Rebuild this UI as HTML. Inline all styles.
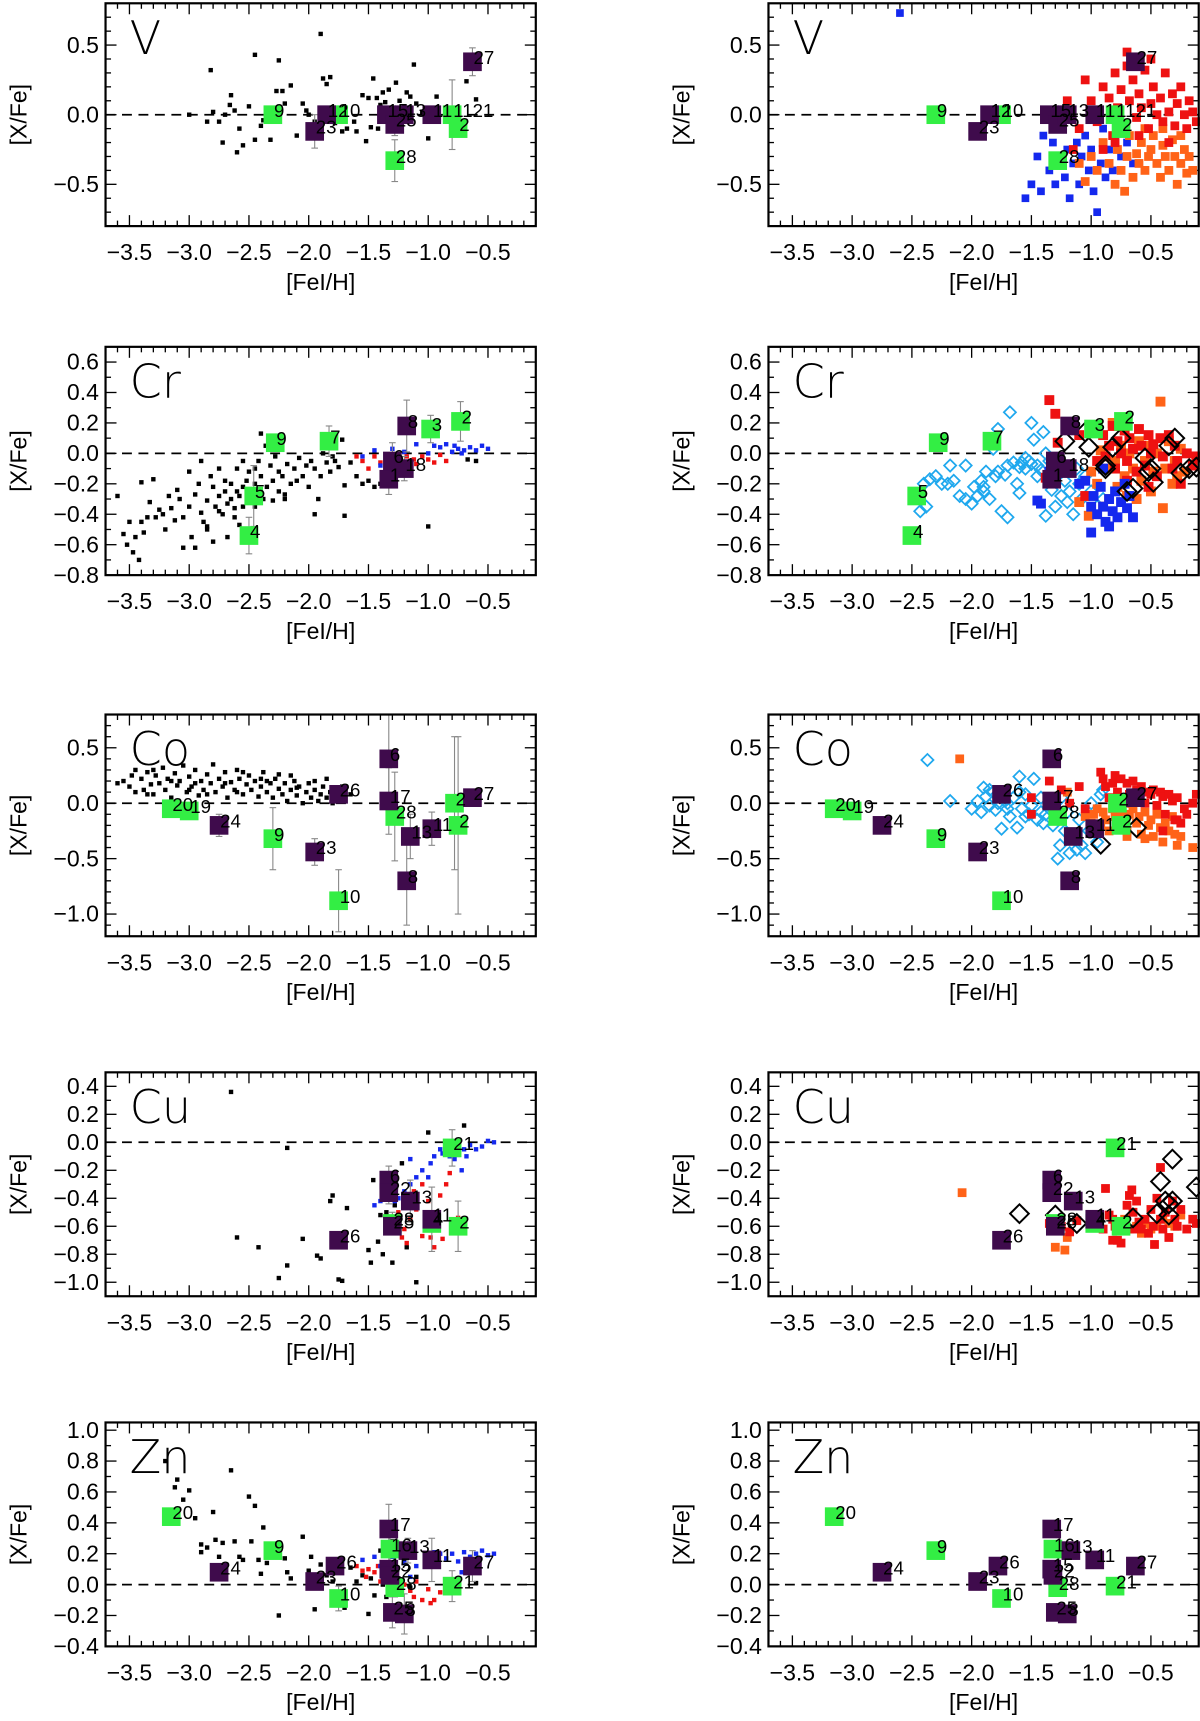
<!DOCTYPE html>
<html><head><meta charset="utf-8"><title>Abundance ratios [X/Fe] vs [FeI/H]</title>
<style>html,body{margin:0;padding:0;background:#fff;}svg{display:block;font-family:"Liberation Sans",sans-serif;}</style>
</head><body>
<svg id="fig" width="1200" height="1721" viewBox="0 0 1093 1568" xmlns="http://www.w3.org/2000/svg"></svg>
<script>
// ---------- data (x = [FeI/H], y = [X/Fe]) ----------
const xTicks=[-3.5,-3.0,-2.5,-2.0,-1.5,-1.0,-0.5];
const xTickLabels=["−3.5","−3.0","−2.5","−2.0","−1.5","−1.0","−0.5"];
// labeled stars: [x, y, label, type(g=green,p=purple), err]
const vStars=[[-2.3,0.0,"9","g",0],[-1.75,0.0,"10","g",0],[-1.28,-0.33,"28","g",0.15],[-0.8,0.0,"1121","g",0.25],[-0.75,-0.1,"2","g",0],[-1.95,-0.12,"23","p",0.12],[-1.85,0.0,"12","p",0],[-1.35,0.0,"15","p",0],[-1.28,-0.07,"25","p",0.08],[-1.2,0.0,"13","p",0],[-0.97,0.0,"11","p",0],[-0.63,0.38,"27","p",0.1]];
const crStars=[[-2.28,0.07,"9","g",0],[-1.83,0.08,"7","g",0.1],[-2.46,-0.28,"5","g",0.2],[-2.5,-0.54,"4","g",0.12],[-0.98,0.16,"3","g",0.09],[-0.73,0.21,"2","g",0.13],[-1.18,0.18,"8","p",0.17],[-1.33,-0.17,"1","p",0.1],[-1.3,-0.05,"6","p",0.12],[-1.2,-0.1,"18","p",0.08]];
const coStars=[[-3.15,-0.05,"20","g",0],[-3.0,-0.07,"19","g",0],[-2.3,-0.32,"9","g",0.28],[-1.75,-0.88,"10","g",0.28],[-1.28,-0.12,"28","g",0.4],[-0.78,0.0,"2","g",0.6],[-0.75,-0.2,"2","g",0.8],[-2.75,-0.2,"24","p",0.1],[-1.95,-0.44,"23","p",0.12],[-1.75,0.08,"26","p",0],[-1.33,0.4,"6","p",0.4],[-1.33,0.02,"17","p",0.3],[-1.15,-0.3,"13","p",0.2],[-1.18,-0.7,"8","p",0.4],[-0.97,-0.23,"11","p",0.15],[-0.63,0.05,"27","p",0]];
const cuStars=[[-0.8,-0.04,"21","g",0.13],[-0.75,-0.6,"2","g",0.18],[-1.3,-0.58,"28","g",0.08],[-0.97,-0.58,"4","g",0],[-1.75,-0.7,"26","p",0],[-1.33,-0.27,"6","p",0.1],[-1.33,-0.36,"22","p",0.08],[-1.15,-0.42,"13","p",0.15],[-0.97,-0.55,"11","p",0.23],[-1.3,-0.6,"25","p",0]];
const znStars=[[-3.15,0.44,"20","g",0],[-2.3,0.22,"9","g",0.05],[-1.75,-0.09,"10","g",0.08],[-1.32,0.23,"16","g",0.08],[-1.28,-0.02,"28","g",0.06],[-0.8,-0.01,"21","g",0.1],[-2.75,0.08,"24","p",0],[-1.95,0.02,"23","p",0],[-1.78,0.12,"26","p",0],[-1.33,0.36,"17","p",0.16],[-1.33,0.1,"15","p",0.1],[-1.32,0.06,"22","p",0],[-1.17,0.22,"13","p",0.08],[-0.97,0.16,"11","p",0.14],[-0.63,0.12,"27","p",0.1],[-1.3,-0.18,"25","p",0.1],[-1.2,-0.19,"8","p",0.13]];

// left-panel literature (small dots)
const vLitBlack=[[-3.0,0.0],[-2.85,-0.05],[-2.82,0.32],[-2.8,0.02],[-2.75,-0.05],[-2.72,-0.2],[-2.7,0.0],[-2.66,0.07],[-2.65,0.14],[-2.62,0.03],[-2.6,-0.27],[-2.58,-0.1],[-2.55,-0.22],[-2.5,0.06],[-2.45,-0.18],[-2.45,0.43],[-2.4,-0.08],[-2.38,-0.04],[-2.35,0.03],[-2.32,-0.18],[-2.27,0.17],[-2.25,0.39],[-2.22,0.17],[-2.2,0.08],[-2.15,0.21],[-2.1,-0.15],[-2.05,0.08],[-2.02,0.03],[-1.95,-0.05],[-1.88,0.26],[-1.9,0.58],[-1.85,0.22],[-1.82,0.27],[-1.78,-0.06],[-1.72,-0.12],[-1.7,0.02],[-1.68,-0.1],[-1.62,-0.05],[-1.55,0.14],[-1.52,-0.19],[-1.5,0.12],[-1.48,-0.09],[-1.46,0.26],[-1.43,0.12],[-1.4,0.07],[-1.38,0.16],[-1.36,0.09],[-1.33,0.18],[-1.3,0.04],[-1.27,0.23],[-1.24,0.1],[-1.2,0.06],[-1.18,0.16],[-1.15,0.13],[-1.12,0.36],[-1.1,0.08],[-1.05,0.02],[-1.0,-0.17],[-0.93,0.13],[-0.68,0.24],[-0.6,0.11],[-1.6,-0.12],[-2.0,0.0],[-1.25,-0.03],[-1.42,-0.1]];
const crLitBlack=[[-3.6,-0.28],[-3.55,-0.53],[-3.52,-0.6],[-3.5,-0.45],[-3.47,-0.65],[-3.45,-0.55],[-3.42,-0.7],[-3.4,-0.45],[-3.4,-0.19],[-3.38,-0.52],[-3.35,-0.42],[-3.33,-0.32],[-3.3,-0.17],[-3.28,-0.42],[-3.25,-0.37],[-3.22,-0.4],[-3.2,-0.5],[-3.17,-0.28],[-3.15,-0.36],[-3.12,-0.44],[-3.1,-0.24],[-3.08,-0.3],[-3.05,-0.42],[-3.0,-0.35],[-3.0,-0.12],[-2.98,-0.55],[-2.95,-0.62],[-2.95,-0.27],[-2.92,-0.2],[-2.9,-0.39],[-2.9,-0.05],[-2.88,-0.45],[-2.85,-0.5],[-2.85,-0.31],[-2.82,-0.15],[-2.8,-0.58],[-2.8,-0.22],[-2.78,-0.35],[-2.75,-0.28],[-2.75,-0.1],[-2.72,-0.4],[-2.7,-0.25],[-2.7,-0.18],[-2.68,-0.33],[-2.65,-0.2],[-2.65,-0.3],[-2.62,-0.36],[-2.6,-0.25],[-2.6,-0.1],[-2.58,-0.28],[-2.55,-0.22],[-2.55,-0.35],[-2.52,-0.18],[-2.5,-0.3],[-2.5,-0.12],[-2.48,-0.26],[-2.45,-0.1],[-2.45,-0.2],[-2.42,-0.05],[-2.4,0.13],[-2.4,-0.15],[-2.38,-0.3],[-2.36,0.05],[-2.35,-0.22],[-2.32,-0.08],[-2.3,-0.18],[-2.28,-0.02],[-2.25,-0.25],[-2.25,-0.12],[-2.22,-0.15],[-2.2,-0.3],[-2.18,-0.07],[-2.15,-0.2],[-2.12,-0.1],[-2.1,-0.18],[-2.08,-0.03],[-2.05,-0.15],[-2.02,-0.08],[-2.0,-0.22],[-1.98,-0.05],[-1.95,-0.1],[-1.95,-0.4],[-1.92,-0.3],[-1.9,-0.15],[-1.88,0.0],[-1.85,-0.06],[-1.82,-0.12],[-1.8,-0.02],[-1.78,-0.05],[-1.75,-0.09],[-1.72,0.09],[-1.7,-0.21],[-1.7,-0.41],[-1.65,-0.06],[-1.6,-0.15],[-1.55,-0.2],[-1.5,-0.18],[-1.45,-0.22],[-1.4,-0.2],[-1.0,-0.48],[-0.6,-0.05],[-0.67,-0.04],[-2.68,-0.55],[-2.58,-0.47],[-3.05,-0.62],[-2.85,-0.48],[-2.75,-0.38],[-2.62,-0.42],[-2.2,-0.27],[-2.3,-0.31],[-2.45,-0.35],[-2.55,-0.05]];
const crLitRed=[[-1.6,-0.02],[-1.55,-0.05],[-1.5,-0.1],[-1.45,-0.02],[-1.4,-0.06],[-1.35,-0.1],[-1.3,-0.03],[-1.25,-0.01],[-1.22,-0.08],[-1.18,-0.02],[-1.15,-0.05],[-1.1,-0.07],[-1.05,-0.02],[-1.0,-0.04],[-0.95,-0.06],[-0.9,-0.01],[-0.85,-0.05],[-1.12,-0.04],[-1.28,-0.06]];
const crLitBlue=[[-1.55,-0.02],[-1.45,0.02],[-1.4,-0.08],[-1.3,0.03],[-1.2,0.01],[-1.1,0.06],[-1.0,0.0],[-0.95,0.05],[-0.9,0.04],[-0.85,0.06],[-0.8,0.01],[-0.75,0.03],[-0.7,0.02],[-0.65,0.04],[-0.6,0.02],[-0.55,0.05],[-0.5,0.03],[-0.78,0.05],[-0.72,0.0]];
const coLitBlack=[[-3.55,0.2],[-3.5,0.15],[-3.45,0.3],[-3.45,0.1],[-3.4,0.22],[-3.38,0.12],[-3.35,0.28],[-3.32,0.17],[-3.3,0.08],[-3.28,0.25],[-3.25,0.18],[-3.22,0.32],[-3.2,0.12],[-3.18,0.22],[-3.15,0.05],[-3.12,0.27],[-3.1,0.16],[-3.08,0.2],[-3.05,0.34],[-3.02,0.1],[-3.0,0.24],[-2.98,0.15],[-2.95,0.3],[-2.92,0.07],[-2.9,0.2],[-2.88,0.12],[-2.85,0.26],[-2.82,0.18],[-2.8,0.35],[-2.78,0.1],[-2.75,0.22],[-2.72,0.15],[-2.7,0.28],[-2.68,0.05],[-2.65,0.19],[-2.62,0.12],[-2.6,0.3],[-2.58,0.22],[-2.55,0.08],[-2.52,0.17],[-2.5,0.25],[-2.48,0.12],[-2.45,0.2],[-2.42,0.06],[-2.4,0.15],[-2.38,0.28],[-2.35,0.1],[-2.32,0.18],[-2.3,0.05],[-2.28,0.22],[-2.25,0.13],[-2.22,0.08],[-2.2,0.18],[-2.18,0.02],[-2.15,0.12],[-2.12,0.2],[-2.1,0.07],[-2.08,0.15],[-2.05,0.0],[-2.02,0.1],[-2.0,0.18],[-1.98,0.05],[-1.95,0.12],[-1.92,0.02],[-1.9,0.08],[-1.88,0.15],[-1.85,0.05],[-1.82,0.1],[-1.8,0.0],[-1.78,0.12],[-1.75,0.05],[-1.72,0.15],[-1.7,0.02],[-1.65,0.08],[-3.48,0.25],[-3.3,0.3],[-3.15,0.2],[-3.0,0.12],[-2.85,0.08],[-2.7,0.18],[-2.55,0.28],[-2.4,0.22],[-2.25,0.26],[-2.1,0.14],[-1.95,0.2],[-3.6,0.18],[-3.35,0.08],[-2.95,0.18],[-2.6,0.1],[-2.35,0.2],[-2.15,0.25],[-1.85,0.22]];
const cuLitBlack=[[-2.65,0.36],[-2.6,-0.68],[-2.42,-0.75],[-2.18,-0.04],[-2.18,-0.88],[-2.25,-0.97],[-2.05,-0.69],[-1.93,-0.81],[-1.9,-0.83],[-1.82,-0.42],[-1.8,-0.38],[-1.75,-0.98],[-1.72,-0.99],[-1.68,-0.47],[-1.5,-0.77],[-1.48,-0.86],[-1.46,-0.27],[-1.42,-0.71],[-1.4,-0.52],[-1.36,-0.33],[-1.38,-0.8],[-1.35,-0.5],[-1.3,-0.86],[-1.28,-0.45],[-1.25,-0.65],[-1.22,-0.15],[-1.18,-0.75],[-1.15,-0.4],[-1.1,-1.0],[-1.0,0.07],[-0.95,-0.55],[-0.7,0.12]];
const cuLitBlue=[[-1.45,-0.45],[-1.4,-0.42],[-1.32,-0.38],[-1.28,-0.42],[-1.25,-0.4],[-1.2,-0.35],[-1.15,-0.12],[-1.15,-0.3],[-1.1,-0.25],[-1.05,-0.2],[-1.0,-0.25],[-0.98,-0.15],[-0.95,-0.1],[-0.9,-0.05],[-0.88,-0.08],[-0.85,-0.02],[-0.82,-0.1],[-0.8,-0.06],[-0.78,-0.12],[-0.75,-0.09],[-0.72,-0.2],[-0.7,-0.05],[-0.65,-0.02],[-0.6,-0.05],[-0.55,-0.03],[-0.5,0.01],[-0.45,0.0],[-0.68,-0.1]];
const cuLitRed=[[-1.3,-0.6],[-1.25,-0.5],[-1.22,-0.68],[-1.2,-0.62],[-1.18,-0.72],[-1.15,-0.55],[-1.12,-0.35],[-1.1,-0.48],[-1.05,-0.3],[-1.05,-0.67],[-1.0,-0.42],[-0.98,-0.68],[-0.95,-0.75],[-0.92,-0.52],[-0.9,-0.38],[-0.88,-0.69],[-0.85,-0.3],[-0.82,-0.22],[-0.8,-0.55],[-0.75,-0.54]];
const znLitBlack=[[-3.2,0.8],[-3.1,0.68],[-3.12,0.63],[-3.0,0.61],[-3.05,0.55],[-2.95,0.43],[-2.9,0.26],[-2.9,0.21],[-2.85,0.24],[-2.8,0.47],[-2.78,0.29],[-2.75,0.18],[-2.72,0.27],[-2.7,0.04],[-2.65,0.74],[-2.62,0.28],[-2.58,0.18],[-2.55,0.16],[-2.5,0.57],[-2.48,0.28],[-2.45,0.51],[-2.42,0.16],[-2.4,0.07],[-2.38,0.37],[-2.35,0.14],[-2.25,-0.2],[-2.2,0.17],[-2.18,0.08],[-2.15,0.04],[-2.05,0.31],[-2.0,0.09],[-1.98,0.18],[-1.95,-0.16],[-1.9,0.13],[-1.85,0.06],[-1.8,0.02],[-1.75,-0.05],[-1.7,-0.15],[-1.65,0.11],[-1.6,0.02],[-1.55,0.06],[-1.5,-0.19],[-1.48,0.04],[-1.45,-0.07],[-1.4,0.22],[-1.38,0.0],[-1.35,-0.08],[-1.3,0.28],[-1.28,0.08],[-1.25,-0.06],[-1.2,0.15],[-1.15,-0.02],[-1.1,0.05],[-0.6,0.01]];
const znLitRed=[[-1.6,0.12],[-1.55,0.09],[-1.52,0.05],[-1.5,0.1],[-1.45,0.08],[-1.42,0.12],[-1.4,0.02],[-1.35,0.05],[-1.3,0.0],[-1.28,-0.02],[-1.25,0.03],[-1.22,-0.05],[-1.2,0.0],[-1.15,-0.04],[-1.12,-0.08],[-1.1,0.02],[-1.05,-0.1],[-1.0,-0.03],[-0.98,-0.12],[-0.95,-0.1],[-0.9,-0.05],[-0.85,0.0]];
const znLitBlue=[[-1.55,0.16],[-1.45,0.18],[-1.4,0.12],[-1.3,0.18],[-1.2,0.14],[-1.15,0.05],[-1.1,0.12],[-1.0,0.2],[-0.95,0.21],[-0.9,0.2],[-0.85,0.17],[-0.8,0.2],[-0.75,0.15],[-0.72,0.08],[-0.7,0.21],[-0.65,0.18],[-0.6,0.2],[-0.55,0.22],[-0.5,0.19],[-0.45,0.2]];

// right-panel comparison samples
const vRed=[[-1.2,0.1],[-1.1,-0.1],[-1.05,0.25],[-1.0,0.1],[-0.95,-0.05],[-0.9,0.2],[-0.85,0.12],[-0.82,-0.15],[-0.8,0.3],[-0.78,0.05],[-0.75,0.18],[-0.72,-0.08],[-0.7,0.45],[-0.68,0.1],[-0.65,0.25],[-0.62,-0.02],[-0.6,0.15],[-0.58,0.05],[-0.55,0.32],[-0.52,-0.1],[-0.5,0.08],[-0.48,0.2],[-0.45,0.0],[-0.42,0.12],[-0.4,-0.05],[-0.38,0.3],[-0.35,0.02],[-0.32,0.15],[-0.3,-0.08],[-0.28,0.08],[-0.25,0.2],[-0.22,0.0],[-0.2,-0.1],[-0.18,0.1],[-0.15,0.02],[-0.12,-0.05],[-0.9,-0.25],[-0.8,-0.2],[-0.6,-0.15],[-0.35,-0.2],[-1.15,-0.25],[-0.5,0.4],[-0.7,0.35]];
const vOrange=[[-1.0,-0.3],[-0.95,-0.4],[-0.9,-0.2],[-0.85,-0.35],[-0.8,-0.5],[-0.78,-0.25],[-0.75,-0.4],[-0.7,-0.3],[-0.68,-0.15],[-0.65,-0.45],[-0.62,-0.28],[-0.6,-0.35],[-0.58,-0.2],[-0.55,-0.4],[-0.52,-0.3],[-0.5,-0.25],[-0.48,-0.15],[-0.45,-0.35],[-0.42,-0.45],[-0.4,-0.22],[-0.38,-0.3],[-0.35,-0.4],[-0.32,-0.18],[-0.3,-0.3],[-0.28,-0.5],[-0.25,-0.35],[-0.22,-0.25],[-0.2,-0.42],[-0.18,-0.3],[-0.15,-0.4],[-1.1,-0.35],[-0.72,-0.55],[-0.55,-0.1],[-0.4,-0.1],[-0.25,-0.15],[-1.05,-0.48]];
const vBlue=[[-2.6,0.73],[-1.55,-0.6],[-1.5,-0.5],[-1.45,-0.3],[-1.42,-0.55],[-1.4,-0.15],[-1.35,-0.4],[-1.32,-0.2],[-1.3,-0.5],[-1.28,-0.3],[-1.25,-0.1],[-1.22,-0.45],[-1.2,-0.25],[-1.18,-0.6],[-1.15,-0.35],[-1.12,-0.2],[-1.1,-0.5],[-1.08,-0.3],[-1.05,-0.15],[-1.02,-0.4],[-1.0,-0.25],[-0.98,-0.55],[-0.95,-0.7],[-0.92,-0.35],[-0.9,-0.1],[-0.88,-0.45],[-0.85,-0.25],[-0.82,-0.4],[-0.8,-0.15],[-0.75,-0.3],[-0.7,-0.2],[-0.65,-0.35]];
const crCyan=[[-2.43,-0.38],[-2.4,-0.2],[-2.38,-0.35],[-2.35,-0.17],[-2.3,-0.15],[-2.25,-0.2],[-2.18,-0.08],[-2.15,-0.18],[-2.1,-0.28],[-2.05,-0.3],[-2.0,-0.33],[-1.98,-0.22],[-1.95,-0.28],[-1.92,-0.18],[-1.9,-0.25],[-1.88,-0.12],[-1.85,-0.3],[-1.82,0.03],[-1.8,-0.15],[-1.78,0.16],[-1.75,-0.38],[-1.72,-0.14],[-1.7,-0.42],[-1.68,0.27],[-1.65,-0.06],[-1.62,-0.2],[-1.6,-0.26],[-1.58,-0.06],[-1.55,-0.03],[-1.52,-0.05],[-1.5,0.2],[-1.48,0.09],[-1.45,-0.08],[-1.42,-0.11],[-1.4,0.14],[-1.38,0.0],[-1.35,-0.05],[-1.33,-0.24],[-1.3,-0.35],[-1.28,-0.12],[-1.25,-0.28],[-1.22,-0.18],[-1.2,-0.32],[-1.18,-0.25],[-1.15,-0.4],[-1.12,-0.1],[-1.1,-0.2],[-1.08,-0.3],[-1.05,-0.15],[-1.0,-0.25],[-0.95,-0.35],[-0.9,-0.3],[-1.6,-0.09],[-1.55,-0.1],[-1.45,-0.15],[-1.38,-0.41],[-1.7,-0.08],[-1.9,-0.22],[-2.05,-0.08],[-2.2,-0.2],[-1.78,-0.12],[-1.5,-0.07]];
const crRed=[[-1.35,0.35],[-1.3,0.26],[-1.28,0.07],[-1.38,-0.16],[-1.1,0.12],[-1.05,-0.28],[-0.95,-0.05],[-0.9,0.12],[-0.85,0.05],[-0.82,0.18],[-0.8,-0.1],[-0.78,0.08],[-0.75,0.0],[-0.72,0.15],[-0.7,-0.05],[-0.68,0.1],[-0.65,0.03],[-0.62,-0.12],[-0.6,0.16],[-0.58,0.05],[-0.55,-0.08],[-0.52,0.12],[-0.5,0.0],[-0.48,0.06],[-0.45,-0.15],[-0.42,0.1],[-0.4,-0.02],[-0.35,0.12],[-0.32,-0.1],[-0.3,0.05],[-0.28,-0.05],[-0.25,-0.2],[-0.2,0.0],[-0.15,-0.08],[-0.12,-0.02],[-0.88,-0.02],[-0.7,-0.18],[-0.52,-0.22]];
const crOrange=[[-1.0,-0.12],[-0.95,-0.2],[-0.92,0.02],[-0.88,-0.1],[-0.85,-0.3],[-0.82,0.2],[-0.8,-0.05],[-0.78,-0.22],[-0.75,0.05],[-0.72,-0.15],[-0.7,-0.28],[-0.68,0.0],[-0.65,-0.1],[-0.62,-0.3],[-0.6,0.08],[-0.58,-0.18],[-0.55,-0.05],[-0.52,0.05],[-0.5,-0.25],[-0.48,-0.12],[-0.45,0.0],[-0.42,0.34],[-0.4,-0.36],[-0.38,-0.1],[-0.35,0.08],[-0.32,-0.2],[-0.3,-0.05],[-0.28,-0.15],[-0.25,0.03],[-0.22,-0.12],[-1.1,-0.32],[-1.02,-0.41],[-0.9,-0.35]];
const crBlue=[[-1.45,-0.31],[-1.42,-0.33],[-1.35,-0.12],[-1.1,-0.2],[-1.05,-0.18],[-1.0,-0.35],[-0.98,-0.28],[-0.95,-0.4],[-0.92,-0.22],[-0.9,-0.35],[-0.88,-0.45],[-0.85,-0.3],[-0.82,-0.38],[-0.8,-0.25],[-0.78,-0.42],[-0.75,-0.32],[-0.72,-0.2],[-0.7,-0.36],[-0.68,-0.28],[-0.65,-0.42],[-1.0,-0.52],[-0.85,-0.48],[-0.9,-0.1]];
const crDiamond=[[-1.22,0.08],[-1.05,0.14],[-1.02,0.04],[-0.88,-0.1],[-0.88,-0.08],[-0.82,0.04],[-0.75,0.1],[-0.7,-0.25],[-0.65,-0.23],[-0.55,-0.03],[-0.52,-0.12],[-0.5,-0.1],[-0.48,-0.19],[-0.35,0.05],[-0.3,0.1],[-0.25,-0.13],[-0.18,-0.1],[-0.12,-0.09]];
const coCyan=[[-2.37,0.39],[-2.18,0.02],[-1.95,0.02],[-1.92,-0.08],[-1.9,0.14],[-1.88,0.06],[-1.85,-0.02],[-1.82,0.1],[-1.8,-0.06],[-1.78,0.0],[-1.75,-0.23],[-1.72,0.02],[-1.7,-0.05],[-1.68,-0.12],[-1.65,0.05],[-1.62,-0.22],[-1.6,0.24],[-1.58,-0.05],[-1.55,0.08],[-1.52,-0.1],[-1.5,-0.02],[-1.48,0.22],[-1.45,-0.15],[-1.42,0.05],[-1.4,-0.18],[-1.38,-0.1],[-1.35,-0.05],[-1.32,-0.2],[-1.3,-0.12],[-1.28,-0.5],[-1.26,-0.38],[-1.25,0.05],[-1.22,-0.25],[-1.2,-0.08],[-1.18,-0.45],[-1.15,-0.3],[-1.12,-0.42],[-1.1,-0.15],[-1.08,-0.38],[-1.05,-0.45],[-1.02,-0.25],[-1.0,0.0],[-0.95,-0.35],[-0.92,0.08],[-0.9,0.12],[-1.7,0.0],[-1.85,0.12],[-2.0,-0.05],[-1.55,-0.12],[-1.42,-0.08],[-1.6,0.1]];
const coRed=[[-1.35,0.2],[-1.25,0.12],[-1.18,0.0],[-1.1,0.15],[-1.05,-0.05],[-0.92,0.28],[-0.9,0.22],[-0.88,0.15],[-0.85,0.05],[-0.82,0.18],[-0.8,0.25],[-0.78,0.1],[-0.75,0.22],[-0.72,0.0],[-0.7,0.18],[-0.68,0.08],[-0.65,0.2],[-0.62,0.12],[-0.6,0.05],[-0.58,0.15],[-0.55,0.0],[-0.52,0.1],[-0.5,0.08],[-0.48,0.12],[-0.45,-0.02],[-0.42,0.1],[-0.4,0.06],[-0.38,-0.1],[-0.35,0.08],[-0.32,0.02],[-0.3,-0.15],[-0.28,0.05],[-0.25,-0.18],[-0.22,-0.05],[-0.2,-0.1],[-0.15,0.0],[-0.12,0.08],[-1.5,0.05],[-1.5,-0.1],[-0.4,-0.25],[-0.28,-0.15]];
const coOrange=[[-2.1,0.4],[-1.2,0.1],[-1.05,-0.12],[-1.0,-0.18],[-0.98,-0.1],[-0.95,-0.05],[-0.92,-0.2],[-0.9,-0.08],[-0.88,-0.15],[-0.85,-0.25],[-0.82,-0.05],[-0.8,-0.12],[-0.78,-0.2],[-0.75,-0.08],[-0.72,-0.15],[-0.7,-0.25],[-0.68,-0.1],[-0.65,-0.05],[-0.62,-0.18],[-0.6,-0.12],[-0.58,-0.28],[-0.55,-0.08],[-0.52,-0.2],[-0.5,-0.15],[-0.48,-0.3],[-0.45,-0.1],[-0.42,-0.22],[-0.4,-0.35],[-0.38,-0.18],[-0.35,-0.25],[-0.32,-0.12],[-0.3,-0.28],[-0.28,-0.38],[-0.25,-0.3],[-0.15,-0.4],[-0.55,-0.32],[-0.7,-0.3],[-0.45,-0.05]];
const coDiamond=[[-0.92,-0.37],[-0.62,-0.22]];
const cuRed=[[-1.35,-0.58],[-1.3,-0.62],[-1.25,-0.6],[-1.18,-0.64],[-1.12,-0.56],[-0.88,-0.33],[-0.85,-0.52],[-0.82,-0.55],[-0.8,-0.6],[-0.78,-0.7],[-0.75,-0.72],[-0.72,-0.62],[-0.7,-0.45],[-0.68,-0.38],[-0.66,-0.34],[-0.65,-0.5],[-0.62,-0.42],[-0.6,-0.57],[-0.58,-0.62],[-0.55,-0.55],[-0.52,-0.65],[-0.5,-0.48],[-0.48,-0.6],[-0.45,-0.4],[-0.42,-0.55],[-0.4,-0.62],[-0.38,-0.5],[-0.35,-0.68],[-0.32,-0.42],[-0.3,-0.55],[-0.28,-0.6],[-0.25,-0.48],[-0.2,-0.62],[-0.15,-0.55],[-0.12,-0.58],[-0.42,-0.18],[-0.47,-0.73],[-0.82,-0.7],[-0.65,-0.62],[-0.9,-0.62]];
const cuOrange=[[-2.08,-0.36],[-1.3,-0.75],[-1.22,-0.77],[-1.2,-0.68],[-0.78,-0.6],[-0.72,-0.55],[-0.68,-0.62],[-0.62,-0.6],[-0.58,-0.65],[-0.55,-0.58],[-0.5,-0.62],[-0.45,-0.6],[-0.4,-0.55],[-0.35,-0.58],[-0.3,-0.6],[-0.25,-0.52]];
const cuDiamond=[[-1.6,-0.51],[-1.3,-0.52],[-1.12,-0.58],[-0.65,-0.54],[-0.45,-0.51],[-0.42,-0.28],[-0.38,-0.42],[-0.35,-0.44],[-0.35,-0.52],[-0.32,-0.42],[-0.32,-0.12],[-0.12,-0.32]];

// ---------- geometry ----------
const XMIN=-3.7,XMAX=-0.1;
const cols=[{x0:96,x1:488},{x0:700,x1:1092}];
const rows=[
 {el:"V", y0:3, y1:206, ymin:-0.8, ymax:0.8, major:[-0.5,0,0.5], lab:["−0.5","0.0","0.5"], minor:0.1},
 {el:"Cr",y0:316,y1:524,ymin:-0.8,ymax:0.7,major:[-0.8,-0.6,-0.4,-0.2,0,0.2,0.4,0.6],lab:["−0.8","−0.6","−0.4","−0.2","0.0","0.2","0.4","0.6"],minor:0.1},
 {el:"Co",y0:651,y1:853,ymin:-1.2,ymax:0.8,major:[-1.0,-0.5,0,0.5],lab:["−1.0","−0.5","0.0","0.5"],minor:0.1},
 {el:"Cu",y0:977,y1:1181,ymin:-1.1,ymax:0.5,major:[-1.0,-0.8,-0.6,-0.4,-0.2,0,0.2,0.4],lab:["−1.0","−0.8","−0.6","−0.4","−0.2","0.0","0.2","0.4"],minor:0.1},
 {el:"Zn",y0:1296,y1:1500,ymin:-0.4,ymax:1.05,major:[-0.4,-0.2,0,0.2,0.4,0.6,0.8,1.0],lab:["−0.4","−0.2","0.0","0.2","0.4","0.6","0.8","1.0"],minor:0.1}
];
const NS="http://www.w3.org/2000/svg";
const svg=document.getElementById("fig");
function mk(tag,attrs,parent){const e=document.createElementNS(NS,tag);for(const k in attrs)e.setAttribute(k,attrs[k]);(parent||svg).appendChild(e);return e;}
const COL={g:"#33ee44",p:"#3f0b4c",red:"#ee1111",orange:"#ff6318",blue:"#1428ee",cyan:"#1fa8ee",black:"#000"};

function makeScales(c,r){
  const sx=v=>c.x0+(v-XMIN)/(XMAX-XMIN)*(c.x1-c.x0);
  const sy=v=>r.y1-(v-r.ymin)/(r.ymax-r.ymin)*(r.y1-r.y0);
  return {sx,sy};
}
function drawAxes(g,c,r,sc){
  const {sx,sy}=sc;
  const z=mk("line",{x1:c.x0,x2:c.x1,y1:sy(0),y2:sy(0),stroke:"#000","stroke-width":1.6,"stroke-dasharray":"9,6"},g);
  
  
  for(let i=-37;i<=-1;i++){const v=i/10;const X=sx(v);const maj=Math.abs((v*2)-Math.round(v*2))<1e-6;const L=maj?10:5;
    mk("line",{x1:X,x2:X,y1:r.y1,y2:r.y1-L,stroke:"#000","stroke-width":1.2},g);
    mk("line",{x1:X,x2:X,y1:r.y0,y2:r.y0+L,stroke:"#000","stroke-width":1.2},g);}
  xTicks.forEach((v,i)=>{const t=mk("text",{x:sx(v),y:r.y1+31,"text-anchor":"middle","font-size":21},g);t.textContent=xTickLabels[i];
    
    });
  const n0=Math.ceil(r.ymin/r.minor-1e-6),n1=Math.floor(r.ymax/r.minor+1e-6);
  for(let i=n0;i<=n1;i++){const v=i*r.minor;const Y=sy(v);const maj=r.major.some(m=>Math.abs(m-v)<1e-6);const L=maj?10:5;
    mk("line",{x1:c.x0,x2:c.x0+L,y1:Y,y2:Y,stroke:"#000","stroke-width":1.2},g);
    mk("line",{x1:c.x1,x2:c.x1-L,y1:Y,y2:Y,stroke:"#000","stroke-width":1.2},g);}
  r.major.forEach((v,i)=>{const t=mk("text",{x:c.x0-6,y:sy(v)+7,"text-anchor":"end","font-size":21},g);t.textContent=r.lab[i];
    
    });
  const xl=mk("text",{x:(c.x0+c.x1)/2,y:r.y1+58,"text-anchor":"middle","font-size":21},g);xl.textContent="[FeI/H]";
  
  
  const yx=c.x0-72,yy=(r.y0+r.y1)/2;
  const yl=mk("text",{x:yx,y:yy,"text-anchor":"middle","font-size":21,transform:`rotate(-90 ${yx} ${yy})`},g);yl.textContent="[X/Fe]";
  
  
  const el=mk("text",{x:c.x0+22,y:r.y0+46,"font-size":42,"font-family":"'DejaVu Sans', 'Liberation Sans', sans-serif","font-weight":"200"},g);el.textContent=r.el;
  
  
}
function frame(g,c,r){const b=mk("rect",{x:c.x0,y:r.y0,width:c.x1-c.x0,height:r.y1-r.y0,fill:"none",stroke:"#000","stroke-width":2},g);
  
  }
function dots(g,sc,r,arr,color,size,name){
  const gg=mk("g",{},g);
  
  
  arr.forEach(p=>{if(p[1]<r.ymin||p[1]>r.ymax||p[0]<XMIN||p[0]>XMAX)return;
    const s=mk("rect",{x:sc.sx(p[0])-size/2,y:sc.sy(p[1])-size/2,width:size,height:size,fill:color},gg);
    
    });
}
function diamonds(g,sc,r,arr,color,size,sw,name){
  const gg=mk("g",{},g);
  
  
  arr.forEach(p=>{if(p[1]<r.ymin||p[1]>r.ymax||p[0]>XMAX)return;const X=sc.sx(p[0]),Y=sc.sy(p[1]),h=size/2;
    const d=mk("polygon",{points:`${X},${Y-h} ${X+h},${Y} ${X},${Y+h} ${X-h},${Y}`,fill:"none",stroke:color,"stroke-width":sw},gg);
    
    });
}
function stars(g,sc,arr,withErr){
  const gg=mk("g",{},g);
  
  
  if(withErr){arr.forEach(p=>{if(!p[4])return;const X=sc.sx(p[0]);const a=sc.sy(p[1]+p[4]),b=sc.sy(p[1]-p[4]);
    mk("line",{x1:X,x2:X,y1:a,y2:b,stroke:"#888","stroke-width":1},gg);
    mk("line",{x1:X-3,x2:X+3,y1:a,y2:a,stroke:"#888","stroke-width":1},gg);
    mk("line",{x1:X-3,x2:X+3,y1:b,y2:b,stroke:"#888","stroke-width":1},gg);});}
  arr.forEach(p=>{const X=sc.sx(p[0]),Y=sc.sy(p[1]);
    const s=mk("rect",{x:X-8.5,y:Y-8.5,width:17,height:17,fill:COL[p[3]]},gg);
    
    });
  arr.forEach(p=>{const X=sc.sx(p[0]),Y=sc.sy(p[1]);
    const t=mk("text",{x:X+1,y:Y+2,"font-size":17},gg);t.textContent=p[2];
    
    });
}
const panels=[
 {left:[[vLitBlack,"black",4]],right:[[vBlue,"blue",7],[vOrange,"orange",8],[vRed,"red",8]],rd:[],starsL:vStars,starsR:vStars},
 {left:[[crLitBlack,"black",4],[crLitRed,"red",4],[crLitBlue,"blue",4]],right:[[crOrange,"orange",9],[crRed,"red",9],[crBlue,"blue",9]],cyan:crCyan,rd:crDiamond,starsL:crStars,starsR:crStars},
 {left:[[coLitBlack,"black",4]],right:[[coOrange,"orange",8],[coRed,"red",8]],cyan:coCyan,rd:coDiamond,starsL:coStars,starsR:coStars},
 {left:[[cuLitBlack,"black",4],[cuLitBlue,"blue",4],[cuLitRed,"red",4]],right:[[cuOrange,"orange",8],[cuRed,"red",8]],rd:cuDiamond,starsL:cuStars,starsR:cuStars},
 {left:[[znLitBlack,"black",4],[znLitRed,"red",4],[znLitBlue,"blue",4]],right:[],rd:[],starsL:znStars,starsR:znStars}
];
rows.forEach((r,ri)=>{
  const P=panels[ri];
  [0,1].forEach(ci=>{
    const c=cols[ci];const sc=makeScales(c,r);
    const g=mk("g",{});
    
    
    drawAxes(g,c,r,sc);
    if(ci===0){P.left.forEach(s=>dots(g,sc,r,s[0],COL[s[1]],s[2],'literature-'+s[1]));stars(g,sc,P.starsL,true);}
    else{ if(P.cyan)diamonds(g,sc,r,P.cyan,COL.cyan,11,1.6,'cyan-diamonds');
      P.right.forEach(s=>dots(g,sc,r,s[0],COL[s[1]],s[2],'comparison-'+s[1]));
      diamonds(g,sc,r,P.rd,"#000",17,1.8,'black-diamonds');
      stars(g,sc,P.starsR,false);}
    frame(g,c,r);
  });
});
</script>
</body></html>
